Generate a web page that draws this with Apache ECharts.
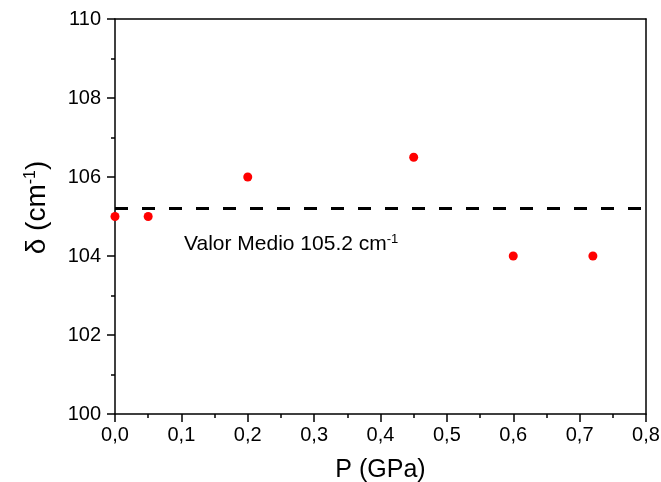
<!DOCTYPE html>
<html><head><meta charset="utf-8">
<script src="https://cdn.jsdelivr.net/npm/echarts@6/dist/echarts.min.js"></script>
<style>html,body{margin:0;padding:0;background:#fff}#c{width:661px;height:482px}</style>
</head><body><div id="c"></div>
<script>
const pressure = [0.0, 0.05, 0.2, 0.45, 0.6, 0.72];
const delta = [105, 105, 106, 106.5, 104, 104];
const meanValue = 105.2;
const xRange = [0, 0.8];
const yRange = [100, 110];
const annotationPos = [0.104, 104.3];

const F = '"Liberation Sans", Arial, sans-serif';
const chart = echarts.init(document.getElementById('c'), null, {renderer: 'canvas'});
const axisCommon = {
  axisLine: {show: true, onZero: false, lineStyle: {color: '#000', width: 1.5}},
  axisTick: {show: true, inside: false, length: 8, lineStyle: {color: '#000', width: 1.5}},
  minorTick: {show: true, splitNumber: 2, length: 4, lineStyle: {color: '#000', width: 1.5}},
  splitLine: {show: false},
};
chart.setOption({
  animation: false,
  grid: {left: 115, right: 15, top: 19, bottom: 68, show: false, containLabel: false, outerBoundsMode: 'none'},
  xAxis: [{
    type: 'value', min: xRange[0], max: xRange[1], interval: 0.1, position: 'bottom',
    ...axisCommon,
    axisLabel: {color: '#000', fontFamily: F, fontSize: 20, margin: 11,
      formatter: v => v.toFixed(1).replace('.', ',')},
    name: 'P (GPa)', nameLocation: 'middle', nameGap: 44,
    nameTextStyle: {color: '#000', fontFamily: F, fontSize: 25}
  }, {
    type: 'value', min: xRange[0], max: xRange[1], position: 'top',
    axisLine: {show: true, onZero: false, lineStyle: {color: '#000', width: 1.5}},
    axisTick: {show: false}, axisLabel: {show: false}, splitLine: {show: false}
  }],
  yAxis: [{
    type: 'value', min: yRange[0], max: yRange[1], interval: 2, position: 'left',
    ...axisCommon,
    axisLabel: {color: '#000', fontFamily: F, fontSize: 20, margin: 14},
    name: '{a|δ (cm}{s|-1}{a|)}', nameLocation: 'middle', nameGap: 64, nameRotate: 90,
    nameTextStyle: {color: '#000', fontFamily: F, fontSize: 28, padding: [0, 0, 0, 18],
      rich: {a: {fontFamily: F, fontSize: 28, color: '#000'},
             s: {fontFamily: F, fontSize: 16, color: '#000', verticalAlign: 'top', padding: [0, 0, 12, 0]}}}
  }, {
    type: 'value', min: yRange[0], max: yRange[1], position: 'right',
    axisLine: {show: true, onZero: false, lineStyle: {color: '#000', width: 1.5}},
    axisTick: {show: false}, axisLabel: {show: false}, splitLine: {show: false}
  }],
  series: [{
    type: 'scatter',
    data: pressure.map((p, i) => [p, delta[i]]),
    symbol: 'circle', symbolSize: 9,
    itemStyle: {color: '#ff0000', opacity: 1},
    clip: false,
    markLine: {
      silent: true, symbol: ['none', 'none'],
      lineStyle: {color: '#000', type: [13, 14], width: 3},
      label: {show: false},
      data: [{yAxis: meanValue}]
    },
    markPoint: {
      symbol: 'circle', symbolSize: 0,
      data: [{coord: annotationPos, value: 0}],
      label: {show: true, position: 'right', distance: 0,
        formatter: '{a|Valor Medio 105.2 cm}{s|-1}',
        rich: {a: {fontFamily: F, fontSize: 21, color: '#000'},
               s: {fontFamily: F, fontSize: 13, color: '#000', verticalAlign: 'top', padding: [0, 0, 10, 0]}}}
    }
  }]
});
</script></body></html>
